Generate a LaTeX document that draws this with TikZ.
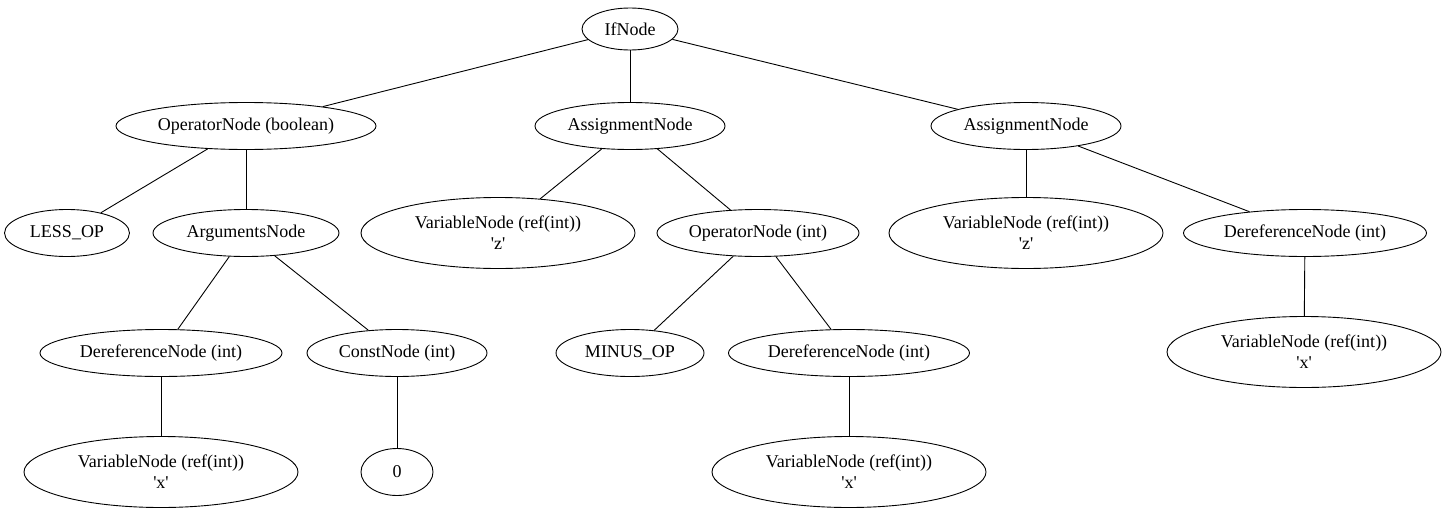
\documentclass[tikz,border=0pt]{standalone}
\usepackage{fontspec}
\setmainfont[Ligatures=TeXOff]{Liberation Serif}
\usetikzlibrary{shapes.geometric}
\begin{document}
\begin{tikzpicture}[x=1pt,y=-1pt,
  ast/.style={draw, ellipse, line width=0.9pt, inner sep=0pt, minimum height=47pt,
    align=center, font=\rmfamily\fontsize{18}{21}\selectfont},
  two/.style={minimum height=71pt, minimum width=274pt},
  edge/.style={line width=0.9pt}]
\useasboundingbox (0,0) rectangle (1445,514);
% row 1
\node[ast, minimum width=96pt, minimum height=42pt] (if) at (630,29) {IfNode};
% row 2
\node[ast, minimum width=260pt] (opb) at (246,126) {OperatorNode (boolean)};
\node[ast, minimum width=190pt] (asa) at (630,126) {AssignmentNode};
\node[ast, minimum width=190pt] (asb) at (1026,126) {AssignmentNode};
% row 3
\node[ast, minimum width=125pt] (less) at (67,233) {LESS\_OP};
\node[ast, minimum width=186pt] (args) at (246,233) {ArgumentsNode};
\node[ast, two] (varza) at (498,233) {VariableNode (ref(int))\\'z'};
\node[ast, minimum width=202pt] (opi) at (758,233) {OperatorNode (int)};
\node[ast, two] (varzb) at (1026,233) {VariableNode (ref(int))\\'z'};
\node[ast, minimum width=243pt] (derc) at (1305,233) {DereferenceNode (int)};
% row 4
\node[ast, minimum width=242pt] (dera) at (161,353) {DereferenceNode (int)};
\node[ast, minimum width=180pt] (const) at (397,353) {ConstNode (int)};
\node[ast, minimum width=148pt] (minus) at (630,353) {MINUS\_OP};
\node[ast, minimum width=241pt] (derb) at (849,353) {DereferenceNode (int)};
\node[ast, two] (varxc) at (1304,352) {VariableNode (ref(int))\\'x'};
% row 5
\node[ast, two] (varxa) at (161,472) {VariableNode (ref(int))\\'x'};
\node[ast, minimum width=72pt] (zero) at (397,472) {0};
\node[ast, two] (varxb) at (849,472) {VariableNode (ref(int))\\'x'};
% edges
\draw[edge] (if) -- (opb);
\draw[edge] (if) -- (asa);
\draw[edge] (if) -- (asb);
\draw[edge] (opb) -- (less);
\draw[edge] (opb) -- (args);
\draw[edge] (args) -- (dera);
\draw[edge] (args) -- (const);
\draw[edge] (dera) -- (varxa);
\draw[edge] (const) -- (zero);
\draw[edge] (asa) -- (varza);
\draw[edge] (asa) -- (opi);
\draw[edge] (opi) -- (minus);
\draw[edge] (opi) -- (derb);
\draw[edge] (derb) -- (varxb);
\draw[edge] (asb) -- (varzb);
\draw[edge] (asb) -- (derc);
\draw[edge] (derc) -- (varxc);
\end{tikzpicture}
\end{document}
